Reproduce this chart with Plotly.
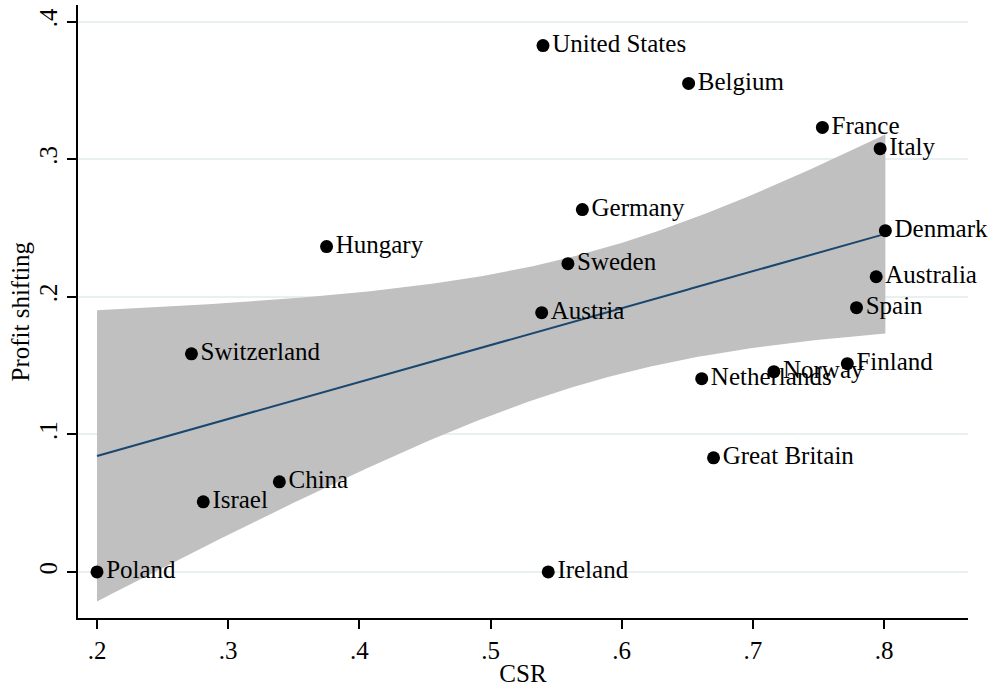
import numpy as np
import plotly.graph_objects as go

countries = ["United States", "Belgium", "France", "Italy", "Germany", "Denmark",
             "Hungary", "Sweden", "Australia", "Austria", "Spain", "Switzerland",
             "Finland", "Norway", "Netherlands", "Great Britain", "China", "Israel",
             "Poland", "Ireland"]
csr = [0.540, 0.651, 0.753, 0.797, 0.570, 0.801,
       0.375, 0.559, 0.794, 0.539, 0.779, 0.272,
       0.772, 0.716, 0.661, 0.670, 0.339, 0.281,
       0.200, 0.544]
profit_shifting = [0.3825, 0.355, 0.323, 0.3076, 0.2633, 0.248,
                   0.2364, 0.224, 0.2145, 0.1884, 0.192, 0.1585,
                   0.1513, 0.1455, 0.1404, 0.0829, 0.0655, 0.0509,
                   0.0, 0.0]
x_ticks = [0.2, 0.3, 0.4, 0.5, 0.6, 0.7, 0.8]
x_tick_labels = [".2", ".3", ".4", ".5", ".6", ".7", ".8"]
y_ticks = [0.0, 0.1, 0.2, 0.3, 0.4]
y_tick_labels = ["0", ".1", ".2", ".3", ".4"]

# Linear fit with 95% confidence interval of the mean prediction
x = np.array(csr)
y = np.array(profit_shifting)
n = len(x)
b, a = np.polyfit(x, y, 1)
resid = y - (a + b * x)
s = np.sqrt(np.sum(resid ** 2) / (n - 2))
sxx = np.sum((x - x.mean()) ** 2)
t_crit = 2.100922  # t(0.975, df=18)
xg = np.linspace(x.min(), x.max(), 200)
yg = a + b * xg
se = s * np.sqrt(1.0 / n + (xg - x.mean()) ** 2 / sxx)
lo = yg - t_crit * se
hi = yg + t_crit * se

font = "Liberation Serif, Times New Roman, serif"
fs = 25

fig = go.Figure()
fig.add_trace(go.Scatter(
    x=np.concatenate([xg, xg[::-1]]), y=np.concatenate([hi, lo[::-1]]),
    fill="toself", fillcolor="#c0c0c0", line=dict(width=0),
    mode="lines", hoverinfo="skip", showlegend=False))
fig.add_trace(go.Scatter(
    x=xg, y=yg, mode="lines", line=dict(color="#1a476f", width=2),
    showlegend=False))
fig.add_trace(go.Scatter(
    x=csr, y=profit_shifting, mode="markers+text", text=countries,
    textposition="middle right", cliponaxis=False,
    textfont=dict(family=font, size=fs, color="#000000"),
    marker=dict(color="#000000", size=13),
    showlegend=False))

fig.update_layout(
    width=995, height=687,
    margin=dict(l=78, r=27, t=5, b=69),
    paper_bgcolor="white", plot_bgcolor="white",
    font=dict(family=font, size=fs, color="#000000"),
    xaxis=dict(
        range=[0.1855, 0.864], tickvals=x_ticks, ticktext=x_tick_labels,
        showgrid=False, zeroline=False, showline=True, linecolor="#000000",
        linewidth=1.5, ticks="outside", ticklen=9, tickwidth=1.5,
        tickcolor="#000000", tickfont=dict(size=fs),
        title=dict(text="CSR", font=dict(size=fs), standoff=2)),
    yaxis=dict(
        range=[-0.0335, 0.412], tickvals=y_ticks, ticktext=y_tick_labels,
        showgrid=True, gridcolor="#e8f0f2", gridwidth=1.5,
        zeroline=False, showline=True, linecolor="#000000", linewidth=1.5,
        ticks="outside", ticklen=9, tickwidth=1.5, tickcolor="#000000",
        tickangle=-90, tickfont=dict(size=fs)),
    annotations=[dict(
        text="Profit shifting", textangle=-90, showarrow=False,
        xref="paper", yref="paper", x=-58 / 890, y=0.5,
        xanchor="center", yanchor="middle", font=dict(size=fs))],
)

fig.write_html("out.html")
